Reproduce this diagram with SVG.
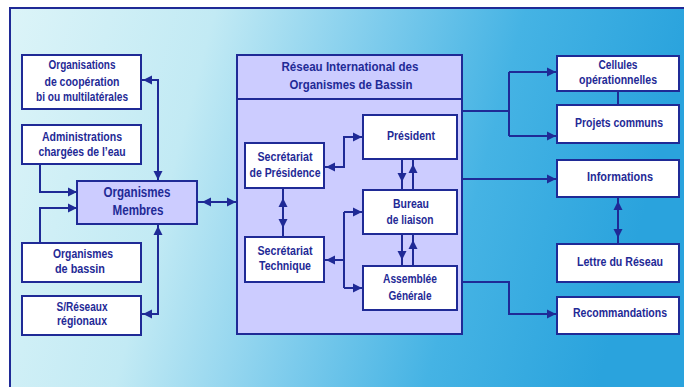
<svg xmlns="http://www.w3.org/2000/svg" xmlns:xlink="http://www.w3.org/1999/xlink" width="684" height="387" viewBox="0 0 684 387">
<style>
.box{fill:#ffffff;stroke:#1f2a96;stroke-width:2}
.lil{fill:#ccccff;stroke:#1f2a96;stroke-width:2}
.ln{fill:none;stroke:#1f2a96;stroke-width:2}
text{font-family:"Liberation Sans Narrow","Liberation Sans",Arial,sans-serif;font-weight:bold;font-size:12px;fill:#1f2a96;text-anchor:middle}
.big{font-size:14px}
.ah{fill:#1f2a96}
</style>
<defs>
<linearGradient id="bg" x1="0" y1="0" x2="1" y2="0.15">
<stop offset="0" stop-color="#dcf4f8"/>
<stop offset="0.3" stop-color="#c2eaf4"/>
<stop offset="0.55" stop-color="#7ccbec"/>
<stop offset="0.75" stop-color="#45b3e4"/>
<stop offset="1" stop-color="#2aa3dd"/>
</linearGradient>
<path id="a" d="M0,0 L-9,-4.5 L-9,4.5 Z"/>
</defs>
<rect x="0" y="0" width="684" height="387" fill="#ffffff"/>
<rect x="9" y="7" width="675" height="380" fill="url(#bg)"/>
<path class="ln" d="M10,387 V8 H684" stroke-width="2.5"/>

<g id="n-riob">
<rect class="lil" x="237" y="55" width="225" height="279"/>
<path class="ln" d="M237,99 H462"/>
<text x="350" y="71" textLength="137" lengthAdjust="spacingAndGlyphs">Réseau International des</text>
<text x="351" y="89" textLength="123" lengthAdjust="spacingAndGlyphs">Organismes de Bassin</text>
</g>

<g id="connectors">
<path class="ln" d="M141,80 H158 V181"/>
<path class="ln" d="M40,164 V192 H77"/>
<path class="ln" d="M40,243 V208 H77"/>
<path class="ln" d="M141,314 H158 V224"/>
<path class="ln" d="M197,202 H237"/>
<path class="ln" d="M324,167 H344 V137 H363"/>
<path class="ln" d="M283,188 V237"/>
<path class="ln" d="M402,159 V190 M413,159 V190"/>
<path class="ln" d="M402,234 V266 M413,234 V266"/>
<path class="ln" d="M324,260 H344 M344,212 V288 M344,212 H363 M344,288 H363"/>
<path class="ln" d="M462,111 H509 M509,72 V136 M509,72 H557 M509,136 H557"/>
<path class="ln" d="M618,91 V105"/>
<path class="ln" d="M462,179 H557"/>
<path class="ln" d="M618,197 V244"/>
<path class="ln" d="M462,282 H509 V314 H557"/>
<g class="ah">
<use xlink:href="#a" transform="translate(143,80) rotate(180)"/>
<use xlink:href="#a" transform="translate(158,180) rotate(90)"/>
<use xlink:href="#a" transform="translate(77,192)"/>
<use xlink:href="#a" transform="translate(77,208)"/>
<use xlink:href="#a" transform="translate(143,314) rotate(180)"/>
<use xlink:href="#a" transform="translate(158,226) rotate(-90)"/>
<use xlink:href="#a" transform="translate(202,202) rotate(180)"/>
<use xlink:href="#a" transform="translate(236,202)"/>
<use xlink:href="#a" transform="translate(362,137)"/>
<use xlink:href="#a" transform="translate(326,167) rotate(180)"/>
<use xlink:href="#a" transform="translate(283,198) rotate(-90)"/>
<use xlink:href="#a" transform="translate(283,228) rotate(90)"/>
<use xlink:href="#a" transform="translate(402,182) rotate(90)"/>
<use xlink:href="#a" transform="translate(413,164) rotate(-90)"/>
<use xlink:href="#a" transform="translate(402,260) rotate(90)"/>
<use xlink:href="#a" transform="translate(413,240) rotate(-90)"/>
<use xlink:href="#a" transform="translate(326,260) rotate(180)"/>
<use xlink:href="#a" transform="translate(362,212)"/>
<use xlink:href="#a" transform="translate(362,288)"/>
<use xlink:href="#a" transform="translate(556,72)"/>
<use xlink:href="#a" transform="translate(556,136)"/>
<use xlink:href="#a" transform="translate(556,179)"/>
<use xlink:href="#a" transform="translate(556,314)"/>
<use xlink:href="#a" transform="translate(618,201) rotate(-90)"/>
<use xlink:href="#a" transform="translate(618,238) rotate(90)"/>
</g>
</g>

<g id="n-orgcoop">
<rect class="box" x="22" y="55" width="119" height="54"/>
<text x="82" y="69" textLength="67" lengthAdjust="spacingAndGlyphs">Organisations</text>
<text x="82" y="86" textLength="75" lengthAdjust="spacingAndGlyphs">de coopération</text>
<text x="82" y="101" textLength="92" lengthAdjust="spacingAndGlyphs">bi ou multilatérales</text>
</g>
<g id="n-admin">
<rect class="box" x="22" y="125" width="119" height="39"/>
<text x="82" y="141" textLength="80" lengthAdjust="spacingAndGlyphs">Administrations</text>
<text x="82" y="156" textLength="87" lengthAdjust="spacingAndGlyphs">chargées de l’eau</text>
</g>
<g id="n-membres">
<rect class="lil" x="77" y="181" width="120" height="43"/>
<text class="big" x="137" y="197" textLength="67" lengthAdjust="spacingAndGlyphs">Organismes</text>
<text class="big" x="138" y="215" textLength="51" lengthAdjust="spacingAndGlyphs">Membres</text>
</g>
<g id="n-bassin">
<rect class="box" x="22" y="243" width="119" height="39"/>
<text x="83" y="258" textLength="60" lengthAdjust="spacingAndGlyphs">Organismes</text>
<text x="80" y="273" textLength="50" lengthAdjust="spacingAndGlyphs">de bassin</text>
</g>
<g id="n-sreseaux">
<rect class="box" x="22" y="296" width="119" height="39"/>
<text x="82" y="311" textLength="51" lengthAdjust="spacingAndGlyphs">S/Réseaux</text>
<text x="82" y="325" textLength="50" lengthAdjust="spacingAndGlyphs">régionaux</text>
</g>

<g id="n-secpres">
<rect class="box" x="245" y="143" width="79" height="45"/>
<text x="285" y="161" textLength="55" lengthAdjust="spacingAndGlyphs">Secrétariat</text>
<text x="285" y="177" textLength="71" lengthAdjust="spacingAndGlyphs">de Présidence</text>
</g>
<g id="n-president">
<rect class="box" x="363" y="115" width="94" height="44"/>
<text x="411" y="140" textLength="48" lengthAdjust="spacingAndGlyphs">Président</text>
</g>
<g id="n-bureau">
<rect class="box" x="363" y="190" width="94" height="44"/>
<text x="411" y="208" textLength="36" lengthAdjust="spacingAndGlyphs">Bureau</text>
<text x="410" y="224" textLength="47" lengthAdjust="spacingAndGlyphs">de liaison</text>
</g>
<g id="n-sectech">
<rect class="box" x="245" y="237" width="79" height="45"/>
<text x="285" y="255" textLength="55" lengthAdjust="spacingAndGlyphs">Secrétariat</text>
<text x="285" y="270" textLength="52" lengthAdjust="spacingAndGlyphs">Technique</text>
</g>
<g id="n-assemblee">
<rect class="box" x="363" y="266" width="94" height="44"/>
<text x="410" y="283" textLength="54" lengthAdjust="spacingAndGlyphs">Assemblée</text>
<text x="410" y="300" textLength="43" lengthAdjust="spacingAndGlyphs">Générale</text>
</g>

<g id="n-cellules">
<rect class="box" x="557" y="56" width="122" height="35"/>
<text x="618" y="69" textLength="39" lengthAdjust="spacingAndGlyphs">Cellules</text>
<text x="618" y="84" textLength="78" lengthAdjust="spacingAndGlyphs">opérationnelles</text>
</g>
<g id="n-projets">
<rect class="box" x="557" y="105" width="122" height="38"/>
<text x="619" y="127" textLength="88" lengthAdjust="spacingAndGlyphs">Projets communs</text>
</g>
<g id="n-informations">
<rect class="box" x="557" y="160" width="122" height="37"/>
<text x="620" y="181" textLength="66" lengthAdjust="spacingAndGlyphs">Informations</text>
</g>
<g id="n-lettre">
<rect class="box" x="557" y="244" width="122" height="38"/>
<text x="620" y="266" textLength="86" lengthAdjust="spacingAndGlyphs">Lettre du Réseau</text>
</g>
<g id="n-recommandations">
<rect class="box" x="557" y="297" width="122" height="37"/>
<text x="620" y="317" textLength="94" lengthAdjust="spacingAndGlyphs">Recommandations</text>
</g>
</svg>
